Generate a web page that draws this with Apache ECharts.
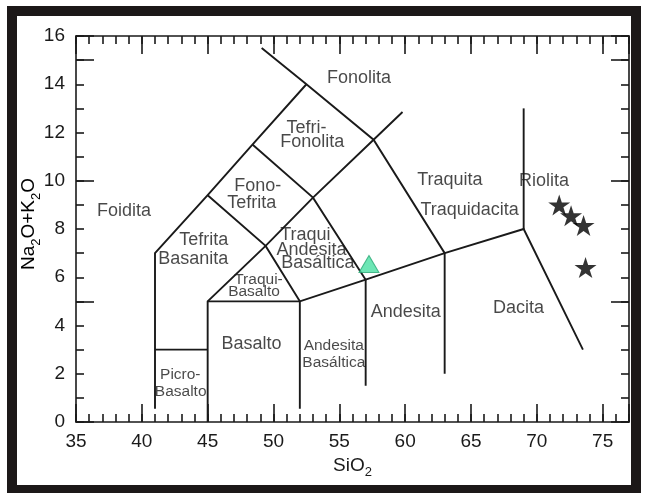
<!DOCTYPE html>
<html>
<head>
<meta charset="utf-8">
<script src="https://cdn.jsdelivr.net/npm/echarts@6/dist/echarts.min.js"></script>
<style>
html,body{margin:0;padding:0;background:#fff;}
#c{width:645px;height:493px;}
</style>
</head>
<body>
<div id="c"></div>
<script>
// ---- data ----
const xTickLabels = [35, 40, 45, 50, 55, 60, 65, 70, 75];
const yTickLabels = [0, 2, 4, 6, 8, 10, 12, 14, 16];

// TAS field boundaries [SiO2, Na2O+K2O]
const bFoiditaLeft   = [[41, 0.55], [41, 7], [45, 9.4], [48.4, 11.5], [52.5, 14]];
const bFonolitaLower = [[49.1, 15.5], [52.5, 14], [57.6, 11.7], [63, 7], [63, 2]];
const bPicro         = [[41, 3], [45, 3]];
const bMiddle        = [[45, 0], [45, 5], [49.4, 7.3], [53, 9.3], [57.6, 11.7], [59.8, 12.85]];
const bSubalkaline   = [[45, 5], [52, 5], [57, 5.9], [63, 7], [69, 8], [73.5, 3]];
const bBasaltRight   = [[52, 0.55], [52, 5], [49.4, 7.3], [45, 9.4]];
const bAndesiteLeft  = [[57, 1.5], [57, 5.9], [53, 9.3], [48.4, 11.5]];
const bRiolita       = [[69, 8], [69, 13]];

// samples
const triangleSample = [[57.25, 6.55]];
const starSamples = [[71.7, 9.0], [72.6, 8.55], [73.55, 8.15], [73.7, 6.4]];

// field names [SiO2, Na2O+K2O, text]
const fieldLabels = [
  [56.5, 14.25, 'Fonolita'],
  [52.5, 12.2, 'Tefri-'],
  [52.95, 11.6, 'Fonolita'],
  [63.4, 10.05, 'Traquita'],
  [38.65, 8.75, 'Foidita'],
  [48.8, 9.77, 'Fono-'],
  [48.35, 9.07, 'Tefrita'],
  [64.9, 8.78, 'Traquidacita'],
  [70.55, 9.98, 'Riolita'],
  [44.7, 7.54, 'Tefrita'],
  [43.9, 6.75, 'Basanita'],
  [52.42, 7.75, 'Traqui'],
  [52.88, 7.12, 'Andesita'],
  [53.37, 6.59, 'Basáltica'],
  [48.33, 3.22, 'Basalto'],
  [60.04, 4.55, 'Andesita'],
  [68.6, 4.72, 'Dacita']
];
const smallLabels = [
  [48.86, 5.88, 'Traqui-'],
  [48.52, 5.42, 'Basalto'],
  [54.58, 3.18, 'Andesita'],
  [54.58, 2.44, 'Basáltica'],
  [42.92, 1.98, 'Picro-'],
  [42.95, 1.27, 'Basalto']
];

// ---- chart ----
const FONT = '"Liberation Sans", Arial, Helvetica, sans-serif';
const INK = '#1a1a1a';
const chart = echarts.init(document.getElementById('c'), null, {renderer: 'canvas'});

const lineStyle = {color: INK, width: 1.6};
function xAxisDef(pos, interval, len, labels, extra) {
  return Object.assign({
    type: 'value', gridIndex: 0, position: pos, min: 35, max: 77, interval: interval,
    axisLine: {show: len < 10, onZero: false, lineStyle: lineStyle},
    axisTick: {show: true, inside: true, length: len, lineStyle: lineStyle},
    axisLabel: labels ? {
      show: true, margin: 10, fontSize: 19, fontFamily: FONT, color: INK,
      formatter: v => xTickLabels.includes(v) ? String(v) : ''
    } : {show: false},
    splitLine: {show: false}
  }, extra || {});
}
function yAxisDef(pos, interval, len, labels, extra) {
  return Object.assign({
    type: 'value', gridIndex: 0, position: pos, min: 0, max: 16, interval: interval,
    axisLine: {show: len < 10, onZero: false, lineStyle: lineStyle},
    axisTick: {show: true, inside: true, length: len, lineStyle: lineStyle},
    axisLabel: labels ? {
      show: true, margin: 11, fontSize: 19, fontFamily: FONT, color: INK,
      formatter: v => yTickLabels.includes(v) ? String(v) : ''
    } : {show: false},
    splitLine: {show: false}
  }, extra || {});
}

const richName = {
  a: {fontSize: 19, fontFamily: FONT, color: INK, lineHeight: 19, verticalAlign: 'top'},
  s: {fontSize: 13, fontFamily: FONT, color: INK, lineHeight: 13, verticalAlign: 'top', padding: [10, 0, 0, 0]}
};

const star = 'path://M0,-10L2.245,-3.09L9.51,-3.09L3.633,1.18L5.878,8.09L0,3.82L-5.878,8.09L-3.633,1.18L-9.51,-3.09L-2.245,-3.09Z';

function boundary(pts) { return {coords: pts}; }

chart.setOption({
  animation: false,
  backgroundColor: '#ffffff',
  grid: {left: 76, top: 36, width: 553, height: 386, containLabel: false},
  graphic: [{
    type: 'rect', silent: true, z: 100,
    shape: {x: 12, y: 11, width: 624, height: 479},
    style: {fill: 'none', stroke: '#1c1818', lineWidth: 10}
  }, {
    type: 'text', silent: true, z: 50,
    x: 29, y: 224, rotation: Math.PI / 2,
    style: {
      text: '{a|Na}{s|2}{a|O+K}{s|2}{a|O}', rich: richName,
      align: 'center', verticalAlign: 'middle'
    }
  }],
  xAxis: [
    xAxisDef('bottom', 1, 8, false),
    xAxisDef('bottom', 5, 18, true, {
      name: '{a|SiO}{s|2}', nameLocation: 'middle', nameGap: 30,
      nameTextStyle: {rich: richName}
    }),
    xAxisDef('top', 1, 8, false),
    xAxisDef('top', 5, 18, false)
  ],
  yAxis: [
    yAxisDef('left', 1, 8, true),
    yAxisDef('left', 5, 18, false),
    yAxisDef('right', 1, 8, false),
    yAxisDef('right', 5, 18, false)
  ],
  series: [
    {
      type: 'lines', coordinateSystem: 'cartesian2d', xAxisIndex: 0, yAxisIndex: 0,
      polyline: true, silent: true, z: 3,
      lineStyle: {color: INK, width: 1.9, opacity: 1},
      data: [bFoiditaLeft, bFonolitaLower, bPicro, bMiddle, bSubalkaline, bBasaltRight, bAndesiteLeft, bRiolita].map(boundary)
    },
    {
      type: 'scatter', xAxisIndex: 0, yAxisIndex: 0, silent: true, z: 4,
      symbolSize: 0, data: fieldLabels,
      label: {show: true, position: 'inside', formatter: p => p.value[2],
        fontSize: 18, fontFamily: FONT, color: INK}
    },
    {
      type: 'scatter', xAxisIndex: 0, yAxisIndex: 0, silent: true, z: 4,
      symbolSize: 0, data: smallLabels,
      label: {show: true, position: 'inside', formatter: p => p.value[2],
        fontSize: 15.5, fontFamily: FONT, color: INK}
    },
    {
      type: 'scatter', xAxisIndex: 0, yAxisIndex: 0, z: 6,
      symbol: 'triangle', symbolSize: [20, 17], data: triangleSample,
      itemStyle: {color: '#48e0a2', borderColor: '#2aa876', borderWidth: 1}
    },
    {
      type: 'scatter', xAxisIndex: 0, yAxisIndex: 0, z: 6,
      symbol: star, symbolSize: [22, 21], data: starSamples,
      itemStyle: {color: '#000000'}
    }
  ]
});
</script>
</body>
</html>
